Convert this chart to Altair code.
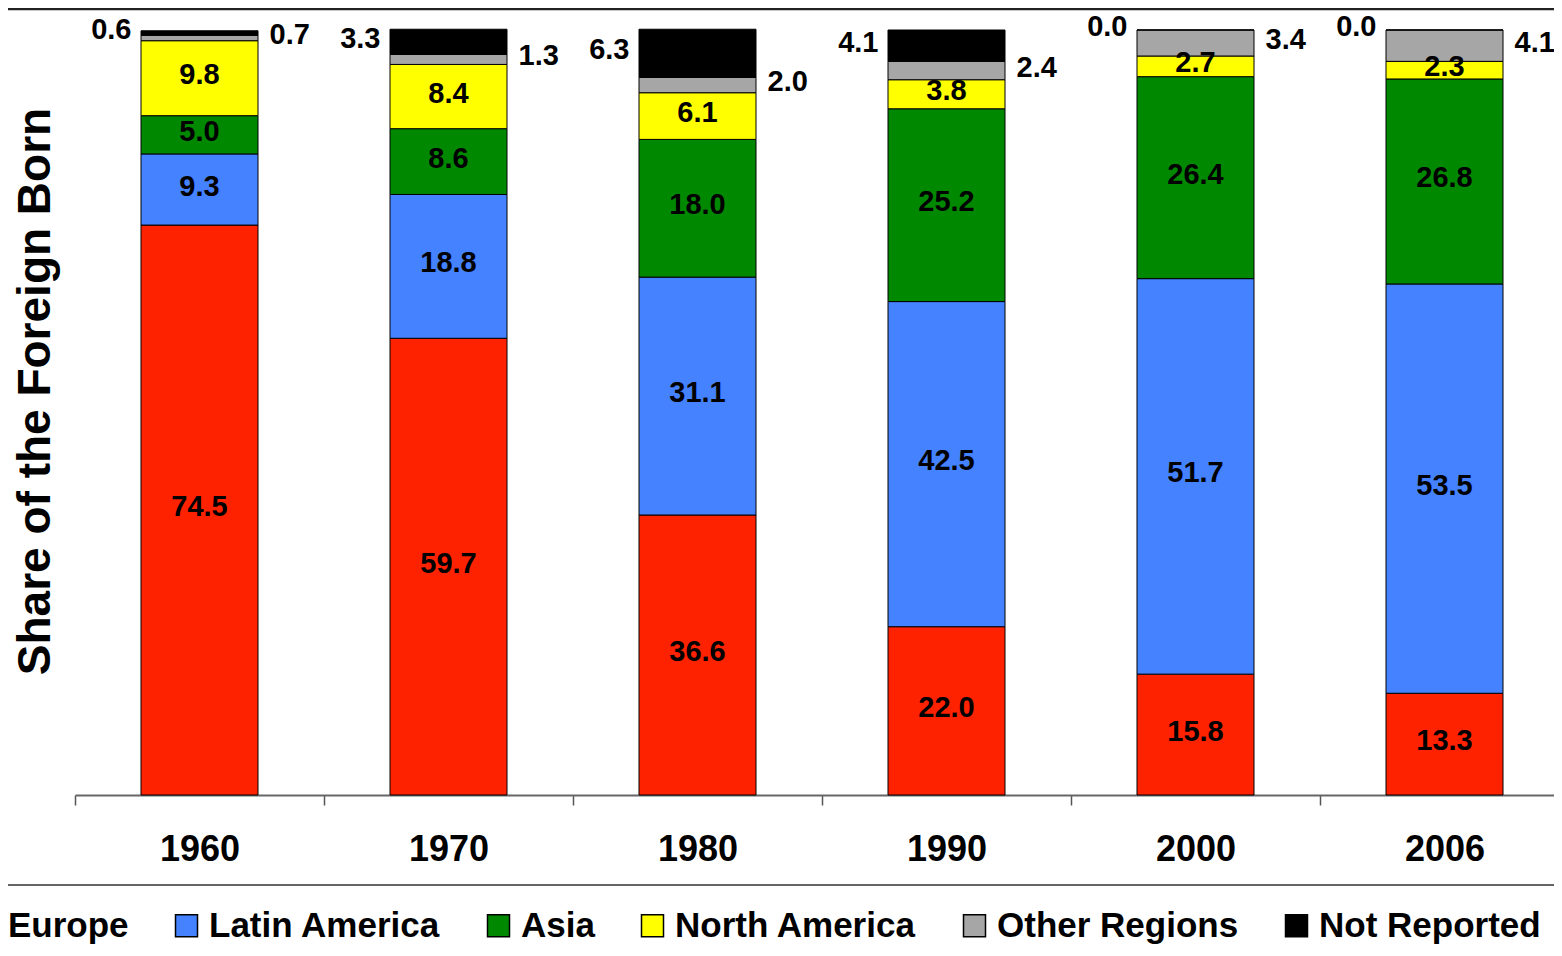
import altair as alt
import pandas as pd

years = ["1960", "1970", "1980", "1990", "2000", "2006"]
regions = ["Europe", "Latin America", "Asia", "North America", "Other Regions", "Not Reported"]
europe = [74.5, 59.7, 36.6, 22.0, 15.8, 13.3]
latin_america = [9.3, 18.8, 31.1, 42.5, 51.7, 53.5]
asia = [5.0, 8.6, 18.0, 25.2, 26.4, 26.8]
north_america = [9.8, 8.4, 6.1, 3.8, 2.7, 2.3]
other_regions = [0.7, 1.3, 2.0, 2.4, 3.4, 4.1]
not_reported = [0.6, 3.3, 6.3, 4.1, 0.0, 0.0]
colors = ["#FF2200", "#4482FF", "#008800", "#FFFF00", "#A6A6A6", "#000000"]

series = [europe, latin_america, asia, north_america, other_regions, not_reported]
rows = []
for i, yr in enumerate(years):
    base = 0.0
    for k, r in enumerate(regions):
        v = series[k][i]
        rows.append(dict(year=yr, region=r, order=k, value=v, start=base,
                         end=base + v, mid=base + v / 2, label=f"{v:.1f}"))
        base += v
df = pd.DataFrame(rows)

FONT = "Liberation Sans, Arial, sans-serif"
W, H = 1479, 787

xenc = alt.X("year:N", sort=years,
             scale=alt.Scale(paddingInner=0, paddingOuter=0, range=[0, 1494]),
             axis=alt.Axis(title=None, labelAngle=0, tickBand="extent", tickSize=10,
                           tickColor="#555555", tickWidth=1.5, domainColor="#666666",
                           domainWidth=2, labelFontSize=36, labelFont=FONT,
                           labelFontWeight="bold", labelColor="black", labelPadding=27))

base = alt.Chart(df)

bars = base.mark_bar(size=117, stroke="black", strokeWidth=1).encode(
    x=xenc,
    y=alt.Y("start:Q", scale=alt.Scale(domain=[0, 102.876], nice=False, zero=True),
            axis=alt.Axis(labels=False, ticks=False, domain=False, grid=False,
                          title="Share of the Foreign Born", titleFontSize=46,
                          titleFont=FONT, titleFontWeight="bold", titleColor="black",
                          titleAngle=270, titleX=-26, titleY=383,
                          titleBaseline="alphabetic", titleAlign="center")),
    y2="end:Q",
    color=alt.Color("region:N", scale=alt.Scale(domain=regions, range=colors),
                    legend=alt.Legend(title=None, orient="none", legendX=-107, legendY=900,
                                      direction="horizontal", columns=6,
                                      labelFont=FONT, labelFontSize=35,
                                      labelFontWeight="bold", labelColor="black",
                                      symbolType="square", symbolSize=484,
                                      symbolStrokeColor="black", symbolStrokeWidth=1.5,
                                      labelOffset=5, columnPadding=40, padding=0,
                                      labelLimit=400)),
    order=alt.Order("order:Q"),
)

txt_kw = dict(font=FONT, fontSize=29, fontWeight="bold", color="black",
              baseline="middle", dy=-3)

inside = base.transform_filter(
    alt.FieldOneOfPredicate(field="region", oneOf=regions[:4])
).mark_text(**txt_kw).encode(x=alt.X("year:N", sort=years), y="mid:Q", text="label:N")

left = base.transform_filter(
    alt.FieldEqualPredicate(field="region", equal="Not Reported")
).mark_text(align="right", dx=-68, **txt_kw).encode(
    x=alt.X("year:N", sort=years), y="mid:Q", text="label:N")

right = base.transform_filter(
    alt.FieldEqualPredicate(field="region", equal="Other Regions")
).mark_text(align="left", dx=70, **txt_kw).encode(
    x=alt.X("year:N", sort=years), y="mid:Q", text="label:N")

deco = pd.DataFrame({"a": [0]})
top_rule = alt.Chart(deco).mark_rule(color="#222222", strokeWidth=2.5).encode(
    x=alt.value(-67), x2=alt.value(1480), y=alt.value(1))
sep_rule = alt.Chart(deco).mark_rule(color="#333333", strokeWidth=1.5).encode(
    x=alt.value(-75), x2=alt.value(1490), y=alt.value(877))

chart = alt.layer(bars, inside, left, right, top_rule, sep_rule).properties(
    width=W, height=H,
    autosize=alt.AutoSizeParams(type="none"),
    padding={"left": 67, "top": 0, "right": 0, "bottom": 152},
).configure_view(stroke=None)

chart.save("out.html", embed_options={"renderer": "svg", "actions": False})
